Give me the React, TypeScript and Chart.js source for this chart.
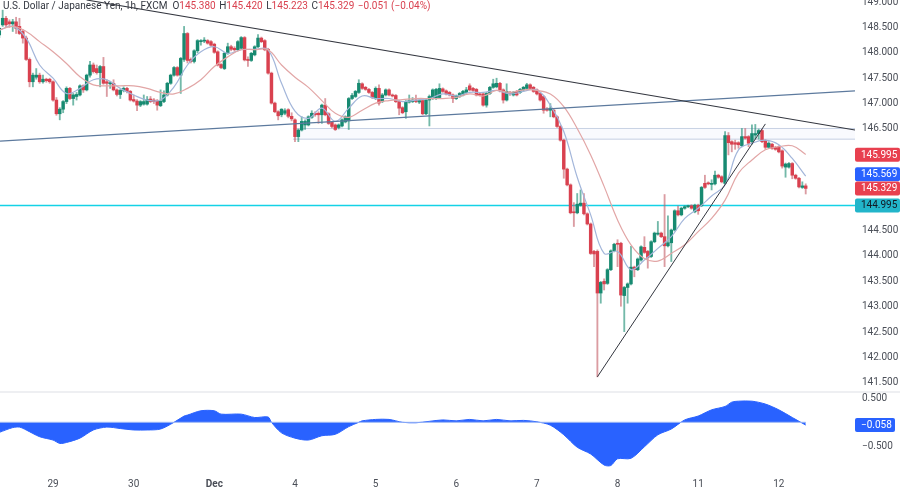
import React, { useEffect, useRef } from "react";
import { Chart, registerables } from "chart.js";

Chart.register(...registerables);

const opens = [
  148.35,148.55,148.68,148.61,148.57,148.61,148.52,148.42,148.29,147.87,
  147.43,147.52,147.56,147.43,147.48,147.48,147.43,147.07,146.80,146.89,
  147.04,147.30,147.10,147.14,147.17,147.35,147.27,147.56,147.76,147.69,
  147.61,147.73,147.43,147.39,147.40,147.27,147.18,147.26,147.30,147.24,
  147.08,147.05,146.97,146.99,146.99,147.09,147.07,147.05,146.96,147.04,
  147.17,147.40,147.56,147.71,147.56,147.87,148.38,147.87,147.83,148.04,
  148.22,148.23,148.24,148.22,148.17,148.02,147.77,147.69,147.99,148.12,
  148.09,148.06,148.09,148.30,147.87,147.85,147.96,148.12,148.29,148.24,
  148.07,147.60,147.01,146.84,146.78,146.81,146.88,146.75,146.68,146.35,
  146.48,146.58,146.58,146.73,146.81,146.81,146.78,146.97,146.80,146.63,
  146.58,146.53,146.56,146.64,146.66,147.10,147.14,147.22,147.39,147.32,
  147.28,147.22,147.10,147.30,147.04,147.17,147.27,147.17,147.16,147.04,
  146.92,146.84,147.03,147.04,147.07,147.03,147.06,146.80,147.07,147.10,
  147.10,147.12,147.29,147.25,147.22,147.17,147.10,147.14,147.17,147.22,
  147.35,147.30,147.28,147.19,147.19,146.97,147.20,147.32,147.33,147.40,
  147.27,147.07,147.22,147.17,147.24,147.22,147.27,147.30,147.37,147.32,
  147.27,147.20,147.14,146.89,146.87,146.87,146.74,146.55,146.28,145.71,
  145.40,144.87,144.85,145.00,145.04,144.83,144.63,144.09,144.09,143.27,
  143.50,143.46,143.73,144.10,144.25,144.25,143.22,143.38,143.45,143.78,
  143.73,143.92,144.17,144.09,143.99,144.28,144.43,144.45,144.38,144.20,
  144.26,144.51,144.89,144.81,144.94,144.97,144.99,144.87,145.00,144.99,
  145.43,145.44,145.41,145.42,145.59,145.56,145.43,146.37,146.25,146.23,
  146.23,146.17,146.35,146.35,146.25,146.38,146.41,146.47,146.27,146.14,
  146.20,146.14,146.15,146.07,145.75,145.75,145.82,145.59,145.53,145.35,
  145.38,
];
const highs = [
  148.50,148.84,148.72,148.65,148.66,148.70,148.68,148.46,148.33,147.90,
  147.60,147.69,147.60,147.56,147.50,147.50,147.45,147.12,146.92,147.06,
  147.33,147.32,147.20,147.22,147.37,147.37,147.58,147.83,147.80,147.76,
  147.75,147.91,147.47,147.44,147.47,147.29,147.28,147.33,147.32,147.26,
  147.17,147.08,147.06,147.17,147.14,147.14,147.10,147.08,147.27,147.25,
  147.42,147.58,147.73,147.73,147.91,148.52,148.40,147.90,148.06,148.26,
  148.26,148.30,148.26,148.24,148.19,148.04,147.79,148.01,148.19,148.15,
  148.12,148.24,148.32,148.32,147.92,148.01,148.14,148.36,148.31,148.26,
  148.09,147.62,147.03,146.86,146.90,146.90,146.90,146.82,146.70,146.50,
  146.74,146.68,146.76,146.86,146.84,146.84,146.99,147.10,146.82,146.65,
  146.60,146.60,146.70,146.76,147.12,147.20,147.26,147.47,147.41,147.34,
  147.30,147.24,147.33,147.37,147.20,147.29,147.29,147.19,147.18,147.06,
  146.94,147.06,147.17,147.12,147.17,147.08,147.08,147.09,147.17,147.29,
  147.30,147.39,147.31,147.27,147.24,147.19,147.17,147.22,147.26,147.32,
  147.39,147.32,147.30,147.21,147.21,147.22,147.34,147.48,147.50,147.42,
  147.29,147.39,147.24,147.24,147.26,147.30,147.34,147.40,147.39,147.34,
  147.29,147.22,147.16,146.92,147.00,146.89,146.76,146.57,146.30,145.73,
  145.42,145.05,145.23,145.30,145.23,144.85,144.65,144.11,144.12,143.50,
  143.55,143.75,144.12,144.25,144.32,144.27,143.40,143.47,144.19,143.80,
  143.96,144.20,144.38,144.11,144.30,144.47,144.68,144.47,145.21,144.79,
  144.53,144.91,144.98,144.96,144.99,145.00,145.01,145.02,145.02,145.37,
  145.59,145.46,145.50,145.67,145.61,145.58,146.45,146.43,146.27,146.28,
  146.25,146.51,146.51,146.37,146.58,146.59,146.50,146.49,146.29,146.25,
  146.22,146.16,146.17,146.09,145.83,145.84,145.84,145.61,145.55,145.46,
  145.42,
];
const lows = [
  148.30,148.52,148.50,148.50,148.42,148.38,148.36,148.19,147.85,147.33,
  147.33,147.48,147.40,147.40,147.42,147.40,147.05,146.77,146.68,146.82,
  147.00,147.08,146.97,147.07,147.15,147.22,147.25,147.52,147.60,147.58,
  147.33,147.38,147.14,147.30,147.25,147.15,147.10,147.23,147.21,147.05,
  147.03,146.86,146.94,146.97,146.97,147.02,147.00,146.87,146.94,147.02,
  147.15,147.38,147.54,147.54,147.20,147.83,147.80,147.80,147.80,148.00,
  148.15,148.20,148.17,148.13,147.99,147.74,147.69,147.67,147.97,148.04,
  148.03,148.04,148.07,147.84,147.73,147.83,147.94,148.10,148.20,148.04,
  147.58,146.99,146.82,146.68,146.74,146.78,146.72,146.66,146.25,146.25,
  146.46,146.49,146.56,146.71,146.75,146.61,146.61,146.76,146.59,146.52,
  146.47,146.50,146.54,146.62,146.49,147.08,147.12,147.20,147.28,147.26,
  147.20,147.10,147.08,146.97,147.02,147.15,147.15,147.13,147.02,146.78,
  146.80,146.71,147.01,147.02,147.02,147.00,146.78,146.78,146.56,147.08,
  147.08,147.10,147.22,147.17,147.15,147.02,147.08,147.12,147.15,147.20,
  147.25,147.24,147.15,147.15,146.95,146.93,147.18,147.30,147.31,147.23,
  147.01,147.05,147.16,147.15,147.15,147.20,147.25,147.28,147.28,147.22,
  147.17,147.05,146.81,146.85,146.74,146.72,146.53,146.26,145.53,145.38,
  144.83,144.58,144.83,144.98,144.81,144.61,144.03,143.79,141.62,143.07,
  143.33,143.44,143.71,144.08,143.79,143.01,142.51,143.07,143.43,143.59,
  143.71,143.90,144.05,143.76,143.97,144.26,144.41,144.36,143.79,144.18,
  143.89,144.49,144.79,144.79,144.92,144.95,144.92,144.85,144.82,144.97,
  145.33,145.40,145.30,145.40,145.53,145.44,145.41,145.99,146.05,146.10,
  146.12,146.15,146.30,146.15,146.20,146.30,146.30,146.23,146.10,146.12,
  146.10,146.08,146.03,145.73,145.55,145.73,145.52,145.51,145.34,145.33,
  145.22,
];
const closes = [
  148.48,148.68,148.55,148.57,148.61,148.48,148.38,148.29,147.87,147.43,
  147.56,147.56,147.43,147.48,147.45,147.43,147.07,146.80,146.89,147.04,
  147.30,147.10,147.17,147.18,147.35,147.27,147.56,147.76,147.63,147.61,
  147.73,147.40,147.40,147.41,147.27,147.18,147.26,147.30,147.24,147.07,
  147.05,146.97,147.04,147.04,147.08,147.04,147.04,146.97,147.05,147.17,
  147.40,147.56,147.71,147.56,147.89,148.38,147.85,147.83,148.04,148.24,
  148.24,148.25,148.19,148.15,148.01,147.76,147.71,147.99,148.12,148.07,
  148.06,148.22,148.30,147.86,147.85,147.99,148.12,148.29,148.22,148.06,
  147.60,147.01,146.84,146.76,146.89,146.86,146.75,146.70,146.35,146.48,
  146.65,146.65,146.74,146.81,146.78,146.78,146.97,146.78,146.61,146.55,
  146.49,146.58,146.68,146.74,147.10,147.16,147.24,147.40,147.30,147.28,
  147.22,147.12,147.30,147.01,147.17,147.27,147.17,147.15,147.04,146.91,
  146.82,147.04,147.06,147.07,147.04,147.06,146.80,147.07,147.14,147.27,
  147.28,147.30,147.24,147.19,147.17,147.10,147.15,147.20,147.24,147.27,
  147.27,147.26,147.17,147.17,146.97,147.20,147.32,147.39,147.40,147.25,
  147.07,147.24,147.20,147.22,147.17,147.28,147.32,147.37,147.30,147.24,
  147.19,147.07,146.87,146.87,146.91,146.74,146.55,146.28,145.71,145.40,
  144.85,144.85,145.02,145.04,144.83,144.63,144.05,144.04,143.27,143.48,
  143.45,143.73,144.10,144.23,144.23,143.23,143.38,143.45,143.78,143.73,
  143.94,144.18,144.07,143.97,144.28,144.45,144.45,144.38,144.20,144.26,
  144.51,144.89,144.81,144.94,144.97,144.98,144.94,145.00,144.89,145.35,
  145.35,145.42,145.43,145.59,145.55,145.46,146.37,146.23,146.20,146.20,
  146.19,146.35,146.32,146.22,146.41,146.41,146.47,146.25,146.14,146.22,
  146.12,146.10,146.05,145.77,145.81,145.82,145.59,145.53,145.36,145.38,
  145.33,
];

// moving averages read every 4 hours
const maHours = [
  0,4,8,12,16,20,24,28,32,36,40,44,48,52,56,60,64,68,72,76,
  80,84,88,92,96,100,104,108,112,116,120,124,128,132,136,140,144,148,152,156,
  160,164,168,172,176,180,184,188,192,196,200,204,208,212,216,220,224,228,232,236,240,
];
const fastMa = [
  148.45,148.52,148.29,147.76,147.50,147.20,147.30,147.47,147.47,147.30,
  147.17,147.07,147.07,147.33,147.76,148.02,148.12,147.99,148.06,148.07,
  148.06,147.40,146.85,146.71,146.91,146.65,146.91,147.15,147.10,147.10,
  147.04,147.07,147.10,147.19,147.15,147.22,147.22,147.26,147.19,147.24,
  147.27,146.97,146.45,145.55,144.81,144.05,144.09,143.73,143.92,144.15,
  144.38,144.74,144.94,145.18,145.40,146.09,146.22,146.28,146.19,145.92,
  145.57,
];
const slowMa = [
  148.45,148.52,148.42,148.22,148.02,147.79,147.53,147.37,147.35,147.35,
  147.35,147.30,147.22,147.19,147.30,147.47,147.73,147.92,148.06,148.06,
  148.06,147.76,147.52,147.32,147.06,146.81,146.73,146.87,147.01,147.06,
  147.08,147.10,147.10,147.10,147.12,147.19,147.15,147.26,147.22,147.27,
  147.26,147.19,146.94,146.51,145.99,145.37,144.71,144.22,143.95,143.90,
  144.05,144.22,144.48,144.74,145.10,145.63,145.89,146.09,146.15,146.17,
  146.00,
];

const oscHours = [
  0,4,6,8,12,16,18,20,24,28,32,36,40,44,48,52,55,56,60,64,66,72,76,80,81,84,88,92,96,100,
  104,107,108,112,116,120,124,128,132,136,140,144,148,152,156,160,164,168,172,176,180,182,184,188,192,196,200,204,208,
  212,216,218,220,224,228,232,236,240,
];
const oscValues = [
  -0.21,-0.11,-0.10,-0.16,-0.30,-0.37,-0.44,-0.42,-0.33,-0.16,-0.10,-0.13,-0.16,-0.16,-0.14,0,0.13,0.15,0.24,0.24,0.17,0.17,0.10,0.11,0,-0.22,-0.33,-0.37,-0.28,-0.25,
  -0.09,0,0.03,0.06,0.06,0,-0.01,0.02,0.05,0.03,0.06,0.03,0.06,0.03,0.04,0.01,-0.06,-0.26,-0.52,-0.66,-0.89,-0.90,-0.76,-0.75,-0.51,-0.26,-0.14,0.05,0.13,
  0.26,0.33,0.42,0.44,0.44,0.38,0.26,0.10,-0.058,
];

const dayHours = [16, 40, 64, 88, 112, 136, 160, 184, 208, 232];
const dayLabels = ["29", "30", "Dec", "4", "5", "6", "7", "8", "11", "12"];
const priceTicks = [149, 148.5, 148, 147.5, 147, 146.5, 144.5, 144, 143.5, 143, 142.5, 142, 141.5];
const oscTicks = [0.5, -0.5];

const fallTrendHours = [26, 254.67];
const fallTrendPrices = [149.04, 146.48];
const riseTrendHours = [0.21, 254.67];
const riseTrendPrices = [146.26, 147.25];
const supportTrendHours = [178, 228];
const supportTrendPrices = [141.62, 146.6];
const zoneHours = [87.4, 254.67];
const zoneTop = [146.51, 146.51];
const zoneBottom = [146.3, 146.3];
const levelHours = [0.21, 254.67];
const levelPrices = [144.995, 144.995];
const oscBaseHours = [0.21, 240];
const oscBase = [0, 0];

const priceTagValues = [145.995, 145.569, 145.329, 144.995];
const priceTagNudge = [0, -2, 0, 0];
const priceTagColors = ["#e8404f", "#2962ff", "#e8404f", "#22b5ca"];
const priceTagText = ["#ffffff", "#ffffff", "#ffffff", "#131722"];

const UP = "#178a71";
const DOWN = "#d9414f";
const FONT = "Roboto";

const hours = closes.map((_, i) => i);
const pts = (xs: number[], ys: number[]) => xs.map((x, i) => ({ x, y: ys[i] }));

const minus = (v: number, d: number) => v.toFixed(d).replace("-", "\u2212");

const overlay = {
  id: "overlay",
  afterDraw(chart: any) {
    const { ctx, scales } = chart;
    ctx.save();
    // pane separator
    ctx.fillStyle = "#eeeff2";
    ctx.fillRect(0, 391, 900, 2);

    // header
    ctx.textBaseline = "middle";
    ctx.textAlign = "left";
    ctx.font = `10px ${FONT}`;
    let x = 3;
    const parts: [string, string, number][] = [
      ["U.S. Dollar / Japanese Yen, 1h, FXCM", "#333740", 5],
      ["O", "#333740", 0], ["145.380", DOWN, 3.5],
      ["H", "#333740", 0], ["145.420", DOWN, 3.5],
      ["L", "#333740", 0], ["145.223", DOWN, 3.5],
      ["C", "#333740", 0], ["145.329", DOWN, 3.5],
      ["\u22120.051 (\u22120.04%)", DOWN, 0],
    ];
    parts.forEach(([t, c, gap]) => {
      ctx.fillStyle = c;
      ctx.fillText(t, x, 6.5);
      x += ctx.measureText(t).width + gap;
    });

    // price tags on the right axis
    priceTagValues.forEach((v, i) => {
      const y = scales.y.getPixelForValue(v) + priceTagNudge[i];
      ctx.fillStyle = priceTagColors[i];
      ctx.beginPath();
      ctx.roundRect(855, y - 7, 45, 14, 2);
      ctx.fill();
      ctx.fillStyle = priceTagText[i];
      ctx.fillText(v.toFixed(3), 861, y + 0.5);
    });
    const oscLast = oscValues[oscValues.length - 1];
    const oy = scales.osc.getPixelForValue(oscLast);
    ctx.fillStyle = "#2962ff";
    ctx.beginPath();
    ctx.roundRect(855, oy - 7, 40, 14, 2);
    ctx.fill();
    ctx.fillStyle = "#ffffff";
    ctx.fillText(minus(oscLast, 3), 861, oy + 0.5);
    ctx.restore();
  },
};

const noMargins = (scale: any) => {
  scale.paddingTop = 0;
  scale.paddingBottom = 0;
  scale.paddingLeft = 0;
  scale.paddingRight = 0;
};

const App = () => {
  const canvasRef = useRef<HTMLCanvasElement | null>(null);

  useEffect(() => {
    document.body.style.margin = "0";
    const ctx = canvasRef.current?.getContext("2d");
    if (!ctx) return;

    const thinLine = (data: any[], color: string, order: number, extra: any = {}) => ({
      type: "line",
      data,
      borderColor: color,
      borderWidth: 1,
      pointRadius: 0,
      order,
      ...extra,
    });

    const chart = new Chart(ctx, {
      type: "bar",
      data: {
        datasets: [
          thinLine(pts(zoneHours, zoneTop), "#c8d2e4", 12, { fill: "+1", backgroundColor: "rgba(66,110,220,0.03)" }),
          thinLine(pts(zoneHours, zoneBottom), "#c8d2e4", 12),
          thinLine(pts(levelHours, levelPrices), "#14d2e6", 11, { borderWidth: 1.4 }),
          {
            type: "bar",
            data: hours.map((i) => ({ x: i, y: [lows[i], highs[i]] })),
            backgroundColor: hours.map((i) => (closes[i] >= opens[i] ? "rgba(21,138,112,0.6)" : "rgba(195,90,100,0.6)")),
            barThickness: 1.2,
            grouped: false,
            order: 8,
          },
          {
            type: "bar",
            data: hours.map((i) => ({ x: i, y: [opens[i], closes[i]] })),
            backgroundColor: hours.map((i) => (closes[i] >= opens[i] ? UP : DOWN)),
            barThickness: 2.8,
            minBarLength: 1,
            grouped: false,
            order: 7,
          },
          thinLine(pts(maHours, fastMa), "#a3b6da", 5, { tension: 0.4, borderWidth: 1.2 }),
          thinLine(pts(maHours, slowMa), "#e2a6a6", 4, { tension: 0.4, borderWidth: 1.2 }),
          thinLine(pts(riseTrendHours, riseTrendPrices), "#5d7a9e", 3, { borderWidth: 1.2 }),
          thinLine(pts(fallTrendHours, fallTrendPrices), "#33363f", 2, { borderWidth: 1.1 }),
          thinLine(pts(supportTrendHours, supportTrendPrices), "#33363f", 2, { borderWidth: 1 }),
          thinLine(pts(oscHours, oscValues), "#2962ff", 6, {
            yAxisID: "osc",
            fill: "origin",
            backgroundColor: "#2962ff",
            tension: 0.3,
          }),
          thinLine(pts(oscBaseHours, oscBase), "#9db8f5", 5, { yAxisID: "osc" }),
        ] as any,
      },
      options: {
        animation: false,
        responsive: false,
        layout: { padding: 0 },
        plugins: { legend: { display: false }, tooltip: { enabled: false } },
        scales: {
          x: {
            type: "linear",
            offset: false,
            min: 0.21,
            max: 254.67,
            grid: { display: false, drawTicks: false },
            border: { display: false },
            afterBuildTicks: (s: any) => {
              s.ticks = dayHours.map((value) => ({ value }));
            },
            afterFit: (s: any) => {
              s.height = 23;
              noMargins(s);
            },
            ticks: {
              autoSkip: false,
              maxRotation: 0,
              padding: 11,
              color: "#4a4e57",
              font: (c: any) => ({ family: FONT, size: 10, weight: c.index === 2 ? "bold" : "normal" }),
              callback: (_v: any, i: number) => dayLabels[i],
            },
          },
          y: {
            type: "linear",
            position: "right",
            stack: "panes",
            stackWeight: 392,
            min: 149.04 - 392 * 0.01969,
            max: 149.04,
            grid: { display: false, drawTicks: false },
            border: { display: false },
            afterBuildTicks: (s: any) => {
              s.ticks = priceTicks.map((value) => ({ value }));
            },
            afterFit: (s: any) => {
              s.width = 45;
              noMargins(s);
            },
            ticks: {
              autoSkip: false,
              padding: 7,
              color: "#4a4e57",
              font: { family: FONT, size: 10 },
              callback: (v: any) => Number(v).toFixed(3),
            },
          },
          osc: {
            type: "linear",
            position: "right",
            stack: "panes",
            stackWeight: 75,
            min: (422.3 - 467) / 48,
            max: (422.3 - 392) / 48,
            grid: { display: false, drawTicks: false },
            border: { display: false },
            afterBuildTicks: (s: any) => {
              s.ticks = oscTicks.map((value) => ({ value }));
            },
            afterFit: (s: any) => {
              s.width = 45;
              noMargins(s);
            },
            ticks: {
              autoSkip: false,
              padding: 7,
              color: "#4a4e57",
              font: { family: FONT, size: 10 },
              callback: (v: any) => minus(Number(v), 3),
            },
          },
        },
      } as any,
      plugins: [overlay],
    });

    return () => {
      chart.destroy();
    };
  }, []);

  return (
    <div>
      <canvas ref={canvasRef} width={900} height={490} style={{ display: "block" }} />
    </div>
  );
};

export default App;
